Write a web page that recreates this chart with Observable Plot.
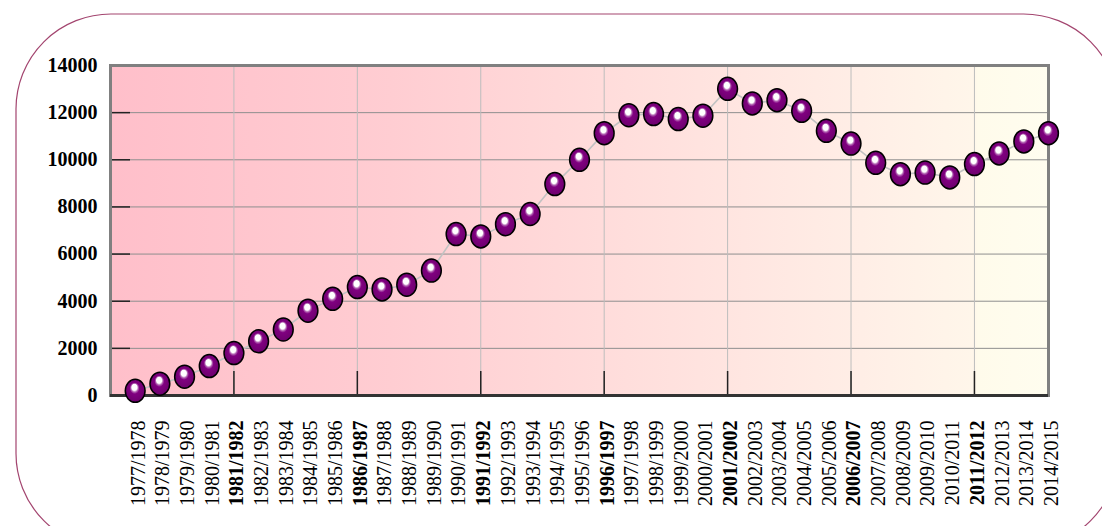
<!DOCTYPE html>
<html>
<head>
<meta charset="utf-8">
<script src="https://cdn.jsdelivr.net/npm/d3@7"></script>
<script src="https://cdn.jsdelivr.net/npm/@observablehq/plot@0.6"></script>
<style>
  html, body { margin: 0; padding: 0; background: #fff; overflow: hidden; }
  #chart svg { overflow: visible; display: block; }
</style>
</head>
<body>
<div id="chart"></div>
<script>
// ---- Data ----
const seasons = [
  "1977/1978","1978/1979","1979/1980","1980/1981","1981/1982","1982/1983","1983/1984","1984/1985",
  "1985/1986","1986/1987","1987/1988","1988/1989","1989/1990","1990/1991","1991/1992","1992/1993",
  "1993/1994","1994/1995","1995/1996","1996/1997","1997/1998","1998/1999","1999/2000","2000/2001",
  "2001/2002","2002/2003","2003/2004","2004/2005","2005/2006","2006/2007","2007/2008","2008/2009",
  "2009/2010","2010/2011","2011/2012","2012/2013","2013/2014","2014/2015"
];
const values = [
  200, 500, 800, 1250, 1800, 2300, 2800, 3600,
  4100, 4600, 4500, 4700, 5300, 6850, 6750, 7270,
  7700, 8970, 10000, 11130, 11890, 11940, 11730, 11870,
  13010, 12390, 12530, 12080, 11230, 10690, 9870, 9390,
  9460, 9250, 9820, 10270, 10780, 11130
];
const yTicks = [0, 2000, 4000, 6000, 8000, 10000, 12000, 14000];
const gridTicks = [2000, 4000, 6000, 8000, 10000, 12000];
const majorSeasons = ["1981/1982","1986/1987","1991/1992","1996/1997","2001/2002","2006/2007","2011/2012"];

// positions of categories on the (index-based) x scale
const idx = s => seasons.indexOf(s);
const majorIdx = majorSeasons.map(idx);
const minorIdx = seasons.map((s, i) => i).filter(i => !majorIdx.includes(i));

const data = seasons.map((s, i) => ({season: s, pos: i, value: values[i]}));

// slightly tall ellipse symbol for the ball markers
const ellipse = {
  draw(ctx, size) {
    const ry = Math.sqrt(size / Math.PI), rx = ry * 0.86, k = 0.5523;
    ctx.moveTo(rx, 0);
    ctx.bezierCurveTo(rx, k * ry, k * rx, ry, 0, ry);
    ctx.bezierCurveTo(-k * rx, ry, -rx, k * ry, -rx, 0);
    ctx.bezierCurveTo(-rx, -k * ry, -k * rx, -ry, 0, -ry);
    ctx.bezierCurveTo(k * rx, -ry, rx, -k * ry, rx, 0);
    ctx.closePath();
  }
};

const serif = "'Liberation Serif', 'Times New Roman', 'DejaVu Serif', serif";
const seasonLabel = i => seasons[i];

const chart = Plot.plot({
  width: 1102,
  height: 526,
  marginLeft: 110,
  marginRight: 54,
  marginTop: 65,
  marginBottom: 131,
  style: {fontFamily: serif, background: "transparent", color: "#000"},
  x: {domain: [-1, seasons.length - 1]},
  y: {domain: [0, 14000]},
  marks: [
    // outer rounded frame
    Plot.frame({rx: 95, insetLeft: -94.5, insetTop: -51.5, insetRight: -70, insetBottom: -153,
                stroke: "#a3456f", strokeWidth: 1.2, fill: "none"}),
    // plot background gradient
    Plot.frame({fill: "url(#plotBg)", stroke: "none"}),
    Plot.gridY(gridTicks, {stroke: "#8e8e8e", strokeOpacity: 1, strokeWidth: 1}),
    Plot.gridX(majorIdx, {stroke: "#bdbdbd", strokeOpacity: 1, strokeWidth: 1}),
    Plot.tickY(yTicks, {y: d => d, insetRight: 918, stroke: "#222", strokeWidth: 1.5}),
    Plot.tickX(majorIdx, {x: d => d, insetTop: 306, stroke: "#222", strokeWidth: 1.5}),
    Plot.frame({stroke: "#808080", strokeWidth: 3, fill: "none"}),
    Plot.ruleY([0], {stroke: "#333", strokeWidth: 3}),
    Plot.axisY(yTicks, {tickSize: 0, tickPadding: 13, tickFormat: d3.format("d"), fontWeight: "bold", fontSize: 20, label: null}),
    Plot.axisX(minorIdx, {tickSize: 0, tickPadding: 25, tickRotate: -90, tickFormat: seasonLabel, fontSize: 20, dx: 3, label: null}),
    Plot.axisX(majorIdx, {tickSize: 0, tickPadding: 25, tickRotate: -90, tickFormat: seasonLabel, fontSize: 20, fontWeight: "bold", dx: 3, label: null}),
    Plot.line(data, {x: "pos", y: "value", stroke: "#c2c2c2", strokeWidth: 1.6}),
    Plot.dot(data, {x: "pos", y: "value", r: 11.5, symbol: ellipse, fill: "url(#ball)", stroke: "#000", strokeWidth: 1.5})
  ]
});

// gradient definitions
const defs = d3.select(chart).insert("defs", ":first-child");
const bg = defs.append("linearGradient").attr("id", "plotBg").attr("x1", 0).attr("x2", 1).attr("y1", 0).attr("y2", 0);
[[0, "#ffbfca"], [0.3, "#ffcdd2"], [0.55, "#ffdedc"], [0.8, "#ffeee6"], [0.92, "#fff6ea"], [0.925, "#fffbeb"], [1, "#fffdef"]]
  .forEach(([o, c]) => bg.append("stop").attr("offset", o).attr("stop-color", c));
const ball = defs.append("radialGradient").attr("id", "ball")
  .attr("cx", 0.5).attr("cy", 0.5).attr("r", 0.55).attr("fx", 0.45).attr("fy", 0.3);
[[0, "#ffffff"], [0.24, "#ffffff"], [0.34, "#b060b0"], [0.45, "#800080"], [0.85, "#700070"], [1, "#500050"]]
  .forEach(([o, c]) => ball.append("stop").attr("offset", o).attr("stop-color", c));

document.getElementById("chart").append(chart);
</script>
</body>
</html>
